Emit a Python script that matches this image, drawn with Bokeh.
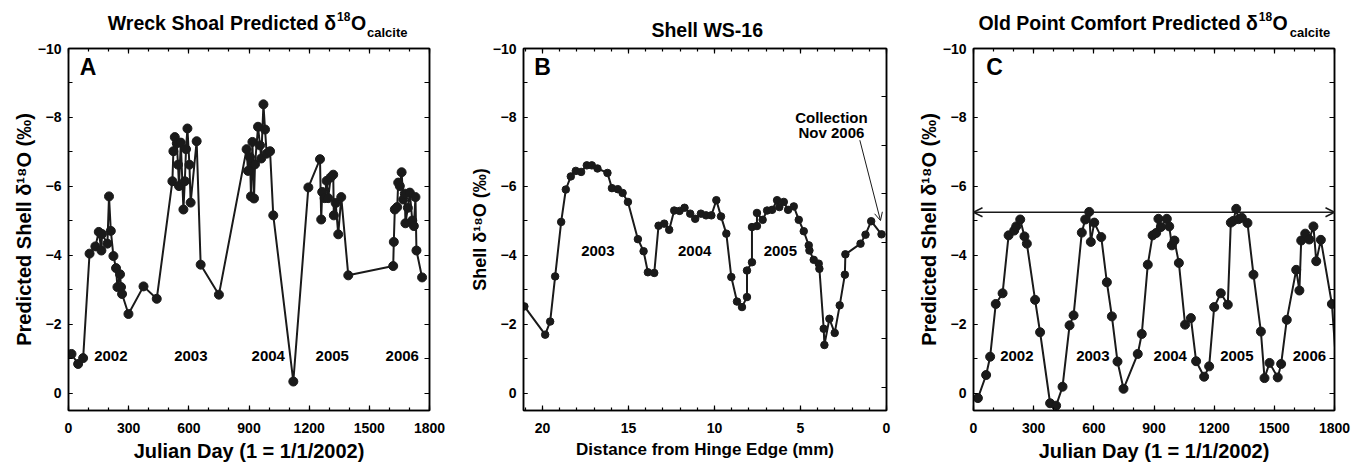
from bokeh.plotting import figure
from bokeh.layouts import row, column
from bokeh.models import (Range1d, LinearAxis, SingleIntervalTicker, FixedTicker, Label,
                          Arrow, OpenHead, CustomJSTickFormatter)
from bokeh.embed import file_html
from bokeh.resources import INLINE

FONT = "Liberation Sans"
INK = "#1a1a1a"

# ---------------- data ----------------
# Panel A: Wreck Shoal predicted d18O calcite
wreck_day = [15, 48, 73, 105, 134, 151, 164, 167, 194, 202, 211, 224, 237, 244, 257, 262, 267,
             299, 374, 440, 518, 523, 530, 540, 546, 551, 560, 573, 580, 586, 593, 603, 609,
             639, 659, 750, 888, 895, 905, 910, 917, 925, 930, 945, 955, 961, 972, 980, 988,
             1005, 1021, 1121, 1196, 1254, 1260, 1265, 1277, 1287, 1295, 1307, 1320, 1323,
             1332, 1345, 1360, 1395, 1619, 1622, 1627, 1639, 1644, 1652, 1661, 1669, 1677,
             1680, 1692, 1702, 1714, 1722, 1730, 1735, 1763]
wreck_d18o = [-1.14, -0.85, -1.02, -4.05, -4.26, -4.68, -4.14, -4.62, -4.34, -5.71, -4.71, -3.98,
              -3.63, -3.08, -3.45, -3.08, -2.88, -2.30, -3.10, -2.74, -6.15, -7.02, -7.43, -7.25,
              -6.63, -6.01, -7.27, -5.33, -6.15, -7.08, -7.68, -6.63, -5.53, -7.31, -3.73, -2.86,
              -7.08, -6.45, -6.85, -5.71, -7.29, -5.65, -6.64, -7.73, -7.19, -6.81, -8.38, -7.65,
              -6.95, -7.02, -5.16, -0.34, -5.97, -6.79, -5.04, -5.84, -5.66, -6.16, -5.66, -6.26,
              -6.34, -5.16, -5.52, -4.61, -5.69, -3.42, -3.69, -4.39, -5.33, -5.40, -6.11, -6.01,
              -6.41, -5.62, -5.79, -4.93, -5.38, -5.82, -5.01, -4.85, -5.69, -4.14, -3.36]

# Panel B: Shell WS-16 measured d18O
shell_dist = [21.05, 19.84, 19.55, 19.26, 18.91, 18.64, 18.35, 18.06, 17.75, 17.42, 17.13, 16.80,
              16.22, 15.96, 15.62, 15.34, 15.03, 14.45, 14.12, 13.87, 13.50, 13.25, 12.92, 12.63,
              12.34, 12.03, 11.74, 11.41, 11.12, 10.79, 10.49, 10.18, 9.89, 9.62, 9.31, 9.02,
              8.69, 8.40, 8.11, 8.11, 7.82, 7.82, 7.53, 7.53, 7.20, 6.94, 6.65, 6.36, 6.23, 5.97,
              5.72, 5.39, 5.10, 4.81, 4.52, 4.48, 4.23, 3.94, 3.90, 3.65, 3.61, 3.32, 3.01, 2.72,
              2.42, 2.39, 1.51, 1.22, 0.89, 0.29]
shell_d18o = [-2.52, -1.70, -2.08, -3.39, -4.97, -5.91, -6.29, -6.45, -6.42, -6.61, -6.61, -6.52,
              -6.39, -5.95, -5.92, -5.81, -5.55, -4.47, -4.12, -3.51, -3.49, -4.86, -4.92, -4.74,
              -5.30, -5.29, -5.38, -5.21, -5.06, -5.21, -5.16, -5.16, -5.60, -5.13, -4.63, -3.37,
              -2.66, -2.50, -2.79, -3.56, -3.80, -4.82, -4.85, -5.23, -5.03, -5.30, -5.32, -5.60,
              -5.40, -5.55, -5.32, -5.42, -5.03, -4.70, -4.29, -4.14, -3.87, -3.76, -3.61, -1.87,
              -1.40, -2.16, -1.75, -2.55, -3.44, -4.03, -4.34, -4.60, -4.99, -4.61]

# Panel C: Old Point Comfort predicted d18O calcite
opc_day = [22, 63, 83, 111, 145, 175, 203, 213, 233, 254, 266, 307, 332, 382, 412, 444, 479, 499,
           540, 557, 577, 585, 602, 637, 665, 690, 718, 748, 819, 839, 869, 893, 911, 922, 934,
           964, 976, 989, 1002, 1024, 1055, 1084, 1110, 1150, 1175, 1200, 1233, 1268, 1283, 1295,
           1310, 1322, 1338, 1366, 1396, 1433, 1451, 1476, 1517, 1534, 1562, 1609, 1625, 1634,
           1654, 1674, 1695, 1709, 1732, 1787, 1825]
opc_d18o = [0.14, -0.53, -1.06, -2.59, -2.90, -4.58, -4.72, -4.84, -5.04, -4.55, -4.34, -2.71,
            -1.77, 0.29, 0.36, -0.19, -1.97, -2.26, -4.66, -5.04, -5.26, -4.39, -4.95, -4.53,
            -3.22, -2.23, -0.92, -0.13, -1.14, -1.72, -3.73, -4.58, -4.65, -5.06, -4.82, -5.06,
            -4.84, -4.29, -4.43, -3.78, -1.99, -2.18, -0.93, -0.48, -0.78, -2.50, -2.90, -2.57,
            -4.95, -5.00, -5.35, -5.05, -5.09, -4.94, -3.44, -1.79, -0.44, -0.88, -0.46, -0.85,
            -2.13, -3.58, -2.98, -4.43, -4.63, -4.46, -4.84, -3.83, -4.45, -2.59, 0.5]
opc_max_line = -5.25

years_ac = ["2002", "2003", "2004", "2005", "2006"]
years_b = ["2003", "2004", "2005"]

y_label_ac = "Predicted Shell \u03b4\u00b9\u2078O (\u2030)"
y_label_b = "Shell \u03b4\u00b9\u2078O (\u2030)"

TITLE_H = 40
TOP_B = 8                      # frame top at page y = 48
MAIN_H = 465 - TITLE_H
FRAME_H = 362


def style_axis(ax, tick_size="14px", lab_size="20px", minor_in=3, major_in=5):
    ax.axis_line_color = "black"
    ax.axis_line_width = 1.5
    ax.major_tick_in = major_in
    ax.major_tick_out = 0
    ax.minor_tick_in = minor_in
    ax.minor_tick_out = 0
    ax.major_tick_line_width = 1.2
    ax.minor_tick_line_width = 1.2
    ax.major_tick_line_color = "black"
    ax.minor_tick_line_color = "black"
    ax.major_label_text_font = FONT
    ax.major_label_text_font_style = "bold"
    ax.major_label_text_font_size = tick_size
    ax.major_label_text_color = "black"
    ax.axis_label_text_font = FONT
    ax.axis_label_text_font_style = "bold"
    ax.axis_label_text_font_size = lab_size
    ax.axis_label_text_color = "black"


def blank_axis(ticker, **kw):
    ax = LinearAxis(ticker=ticker, formatter=CustomJSTickFormatter(code="return ''"), **kw)
    style_axis(ax)
    ax.major_label_text_font_size = "0px"
    ax.major_label_standoff = 0
    return ax


def make_fig(width, bl, br, x_range, x_int, x_minor, xlabel, ylabel, xlab_size, ylab_size):
    p = figure(width=width, height=MAIN_H, x_range=x_range, y_range=Range1d(0.5, -10),
               output_backend="svg", toolbar_location=None,
               min_border_left=bl, min_border_right=br, min_border_top=TOP_B,
               min_border_bottom=MAIN_H - TOP_B - FRAME_H)
    p.grid.visible = False
    p.outline_line_color = "black"
    p.outline_line_width = 1.5
    p.background_fill_color = "white"
    p.border_fill_color = "white"
    xa = p.xaxis[0]
    ya = p.yaxis[0]
    xa.ticker = SingleIntervalTicker(interval=x_int, num_minor_ticks=x_minor)
    ya.ticker = SingleIntervalTicker(interval=2, num_minor_ticks=2)
    style_axis(xa, lab_size=xlab_size)
    style_axis(ya, lab_size=ylab_size, minor_in=4, major_in=4)
    xa.axis_label = xlabel
    ya.axis_label = ylabel
    xa.major_label_standoff = 12
    xa.axis_label_standoff = 4
    ya.major_label_standoff = 7
    ya.axis_label_standoff = 0
    top = blank_axis(SingleIntervalTicker(interval=x_int, num_minor_ticks=x_minor))
    p.add_layout(top, "above")
    return p


def title_fig(width, bl, br, page_left):
    # its frame lines up with the panel frame; coordinates are page pixels
    t = figure(width=width, height=TITLE_H,
               x_range=Range1d(page_left + bl, page_left + width - br),
               y_range=Range1d(TITLE_H, 0),
               output_backend="svg", toolbar_location=None,
               x_axis_location=None, y_axis_location=None,
               min_border_left=bl, min_border_right=br, min_border_top=0, min_border_bottom=0)
    t.grid.visible = False
    t.outline_line_color = None
    t.background_fill_color = "white"
    t.border_fill_color = "white"
    return t


def add_text(p, x, y, text, size="15px", align="center"):
    p.add_layout(Label(x=x, y=y, text=text, text_font=FONT, text_font_style="bold",
                       text_font_size=size, text_align=align, text_baseline="middle",
                       text_color="black"))


def add_title(t, main, x_delta, x_sup, x_o, x_sub):
    add_text(t, x_delta, 22.6, main, size="19.5px", align="right")
    add_text(t, x_sup, 16.0, "18", size="12px", align="left")
    add_text(t, x_o, 22.6, "O", size="19.5px", align="left")
    add_text(t, x_sub, 32.4, "calcite", size="13px", align="left")


# page x positions / borders (frames at A: 68-429, B: 523-886, C: 973-1334)
A_LEFT, A_W, A_BL, A_BR = 0, 459, 68, 30
B_LEFT, B_W, B_BL, B_BR = 459, 450, 64, 23
C_LEFT, C_W, C_BL, C_BR = 909, 448, 64, 23

# ---------------- Panel A ----------------
pA = make_fig(A_W, A_BL, A_BR, Range1d(0, 1800), 300, 3,
              "Julian Day (1 = 1/1/2002)", y_label_ac, "20px", "20px")
pA.add_layout(blank_axis(SingleIntervalTicker(interval=1, num_minor_ticks=0)), "right")
pA.line(wreck_day, wreck_d18o, line_width=2, color=INK)
pA.scatter(wreck_day, wreck_d18o, size=9, color=INK)
for t, xp in zip(years_ac, [211, 610, 996, 1315, 1664]):
    add_text(pA, xp, -1.07, t)
add_text(pA, 56, -9.47, "A", size="23px", align="left")
tA = title_fig(A_W, A_BL, A_BR, A_LEFT)
add_title(tA, "Wreck Shoal Predicted \u03b4", 335.5, 336.5, 350.4, 366.5)

# ---------------- Panel B ----------------
pB = make_fig(B_W, B_BL, B_BR, Range1d(21.1, 0), 5, 5,
              "Distance from Hinge Edge (mm)", y_label_b, "17px", "18px")
pB.extra_y_ranges = {"r": Range1d(7.48, 0)}
pB.add_layout(blank_axis(FixedTicker(ticks=[1, 2, 3, 4, 5, 6, 7]), y_range_name="r"), "right")
pB.line(shell_dist, shell_d18o, line_width=2, color=INK)
pB.scatter(shell_dist, shell_d18o, size=7.5, color=INK)
for t, xp in zip(years_b, [16.78, 11.15, 6.17]):
    add_text(pB, xp, -4.14, t)
add_text(pB, 20.48, -9.47, "B", size="23px", align="left")
add_text(pB, 3.2, -8.0, "Collection", size="15px")
add_text(pB, 3.2, -7.57, "Nov 2006", size="15px")
pB.add_layout(Arrow(end=OpenHead(size=8, line_width=1, line_color=INK),
                    x_start=1.55, y_start=-7.34, x_end=0.35, y_end=-5.01,
                    line_width=1, line_color=INK))
tB = title_fig(B_W, B_BL, B_BR, B_LEFT)
add_text(tB, 706.7, 29.2, "Shell WS-16", size="19.5px")

# ---------------- Panel C ----------------
pC = make_fig(C_W, C_BL, C_BR, Range1d(0, 1800), 300, 3,
              "Julian Day (1 = 1/1/2002)", y_label_ac, "20px", "20px")
pC.add_layout(blank_axis(SingleIntervalTicker(interval=1, num_minor_ticks=0)), "right")
pC.line(opc_day, opc_d18o, line_width=2, color=INK)
pC.scatter(opc_day, opc_d18o, size=9, color=INK)
pC.add_layout(Arrow(start=OpenHead(size=9, line_width=1.5, line_color=INK),
                    end=OpenHead(size=9, line_width=1.5, line_color=INK),
                    x_start=0, y_start=opc_max_line, x_end=1800, y_end=opc_max_line,
                    line_width=1.5, line_color=INK))
for t, xp in zip(years_ac, [216, 595, 981, 1313, 1675]):
    add_text(pC, xp, -1.07, t)
add_text(pC, 63, -9.47, "C", size="23px", align="left")
tC = title_fig(C_W, C_BL, C_BR, C_LEFT)
add_title(tC, "Old Point Comfort Predicted \u03b4", 1257.3, 1258.3, 1272, 1289.3)

layout = row(column(tA, pA), column(tB, pB), column(tC, pC))
open("out.html", "w").write(file_html(layout, INLINE))
